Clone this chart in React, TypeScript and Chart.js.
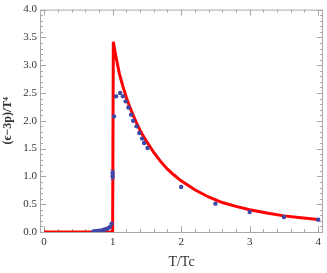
import React, { useEffect, useRef } from "react";
import { Chart, registerables } from "chart.js";

Chart.register(...registerables);

// Fitted curve (red)
const curveT = [0, 0.5, 0.99, 1.0, 1.01, 1.05, 1.1, 1.15, 1.2, 1.25, 1.3, 1.35, 1.4, 1.45, 1.5, 1.6, 1.7, 1.8, 1.9, 2.0, 2.2, 2.4, 2.6, 2.8, 3.0, 3.25, 3.5, 3.75, 4.0];
const curveV = [0, 0, 0, 0, 3.42, 3.14, 2.84, 2.62, 2.42, 2.25, 2.1, 1.96, 1.83, 1.72, 1.62, 1.43, 1.27, 1.13, 1.02, 0.92, 0.76, 0.63, 0.53, 0.46, 0.4, 0.34, 0.29, 0.255, 0.225];

// Lattice data points (blue)
const dataT = [0.72, 0.75, 0.78, 0.81, 0.84, 0.87, 0.9, 0.93, 0.96, 0.985, 1.0, 1.0, 1.02, 1.05, 1.11, 1.15, 1.19, 1.23, 1.27, 1.3, 1.35, 1.39, 1.43, 1.46, 1.51, 2.0, 2.5, 3.0, 3.5, 4.0];
const dataV = [0.01, 0.015, 0.02, 0.025, 0.03, 0.04, 0.05, 0.065, 0.09, 0.15, 1.0, 1.06, 2.08, 2.44, 2.5, 2.44, 2.35, 2.24, 2.11, 2.0, 1.9, 1.78, 1.68, 1.6, 1.51, 0.81, 0.51, 0.36, 0.27, 0.22];
const dataErr = [0, 0, 0, 0, 0, 0, 0, 0, 0, 0, 0.05, 0.05, 0, 0, 0, 0, 0, 0, 0, 0, 0, 0, 0, 0, 0, 0, 0, 0, 0, 0];

// Axis ticks
const xTicks = [0, 1, 2, 3, 4];
const yTicks = [0, 0.5, 1, 1.5, 2, 2.5, 3, 3.5, 4];
const xMinor = [0.2, 0.4, 0.6, 0.8, 1.2, 1.4, 1.6, 1.8, 2.2, 2.4, 2.6, 2.8, 3.2, 3.4, 3.6, 3.8];
const yMinor = [0.1, 0.2, 0.3, 0.4, 0.6, 0.7, 0.8, 0.9, 1.1, 1.2, 1.3, 1.4, 1.6, 1.7, 1.8, 1.9, 2.1, 2.2, 2.3, 2.4, 2.6, 2.7, 2.8, 2.9, 3.1, 3.2, 3.3, 3.4, 3.6, 3.7, 3.8, 3.9];

const FRAME = "#a8a8a8";
const SERIF = "'Liberation Serif', 'Times New Roman', serif";

const framePlugin = {
  id: "frameTicks",
  beforeDatasetsDraw(chart: any) {
    const { ctx, chartArea: a, scales } = chart;
    const xs = scales.x, ys = scales.y;
    ctx.save();
    ctx.strokeStyle = FRAME;
    ctx.lineWidth = 1;
    ctx.strokeRect(a.left + 0.5, a.top + 0.5, a.right - a.left - 1, a.bottom - a.top);
    ctx.beginPath();
    const hx = (v: number, len: number) => {
      const px = Math.round(xs.getPixelForValue(v)) + 0.5;
      ctx.moveTo(px, a.bottom); ctx.lineTo(px, a.bottom - len);
      ctx.moveTo(px, a.top); ctx.lineTo(px, a.top + len);
    };
    const vy = (v: number, len: number) => {
      const py = Math.round(ys.getPixelForValue(v)) + 0.5;
      ctx.moveTo(a.left, py); ctx.lineTo(a.left + len, py);
      ctx.moveTo(a.right, py); ctx.lineTo(a.right - len, py);
    };
    xTicks.forEach((v) => hx(v, 6));
    xMinor.forEach((v) => hx(v, 3));
    yTicks.forEach((v) => vy(v, 6));
    yMinor.forEach((v) => vy(v, 3));
    ctx.stroke();
    ctx.restore();
  },
  afterDatasetsDraw(chart: any) {
    const { ctx, scales } = chart;
    const xs = scales.x, ys = scales.y;
    ctx.save();
    ctx.strokeStyle = "#3f47a6";
    ctx.lineWidth = 1;
    ctx.beginPath();
    dataT.forEach((t, i) => {
      const e = dataErr[i];
      if (!e) return;
      const px = xs.getPixelForValue(t);
      const y1 = ys.getPixelForValue(dataV[i] - e);
      const y2 = ys.getPixelForValue(dataV[i] + e);
      ctx.moveTo(px, y1); ctx.lineTo(px, y2);
      ctx.moveTo(px - 2, y1); ctx.lineTo(px + 2, y1);
      ctx.moveTo(px - 2, y2); ctx.lineTo(px + 2, y2);
    });
    ctx.stroke();
    ctx.restore();
  },
};

export default function App() {
  const ref = useRef<HTMLCanvasElement>(null);
  useEffect(() => {
    if (!ref.current) return;
    const chart = new Chart(ref.current, {
      type: "scatter",
      data: {
        datasets: [
          {
            label: "fit",
            data: curveT.map((t, i) => ({ x: t, y: curveV[i] })),
            showLine: true,
            borderColor: "#ff0000",
            backgroundColor: "#ff0000",
            borderWidth: 3,
            borderJoinStyle: "miter",
            pointRadius: 0,
            tension: 0,
            order: 2,
          },
          {
            label: "lattice",
            data: dataT.map((t, i) => ({ x: t, y: dataV[i] })),
            showLine: false,
            backgroundColor: "#3f47a6",
            borderColor: "#3f47a6",
            borderWidth: 0,
            pointRadius: 2.2,
            order: 1,
          },
        ],
      },
      options: {
        responsive: false,
        animation: false,
        layout: { padding: { top: 7, right: 1, left: 0, bottom: 0 } },
        plugins: { legend: { display: false }, tooltip: { enabled: false } },
        scales: {
          x: {
            type: "linear",
            min: -0.06,
            max: 4.07,
            afterBuildTicks: (s: any) => { s.ticks = xTicks.map((v) => ({ value: v })); },
            afterFit: (s: any) => { s.height = 41; },
            grid: { display: false, drawTicks: false },
            border: { display: false },
            ticks: {
              padding: 4,
              color: "#333",
              font: { family: SERIF, size: 11 },
              maxRotation: 0,
              callback: (v: any) => String(v),
            },
            title: {
              display: true,
              text: "T/Tc",
              color: "#333",
              font: { family: SERIF, size: 14 },
              padding: { top: 2, bottom: 2 },
            },
          },
          y: {
            type: "linear",
            min: 0,
            max: 4,
            afterBuildTicks: (s: any) => { s.ticks = yTicks.map((v) => ({ value: v })); },
            afterFit: (s: any) => { s.width = 40; },
            grid: { display: false, drawTicks: false },
            border: { display: false },
            ticks: {
              padding: 3,
              color: "#333",
              font: { family: SERIF, size: 11 },
              callback: (v: any) => Number(v).toFixed(1),
            },
            title: {
              display: true,
              text: "(ϵ−3p)/T⁴",
              color: "#333",
              font: { family: SERIF, size: 12, weight: "bold" },
              padding: { top: 1, bottom: 0 },
            },
          },
        },
      },
      plugins: [framePlugin],
    } as any);
    return () => chart.destroy();
  }, []);
  return (
    <div style={{ position: "fixed", left: 0, top: 0, width: 327, height: 273, background: "#fff" }}>
      <canvas ref={ref} width={327} height={273} />
    </div>
  );
}
